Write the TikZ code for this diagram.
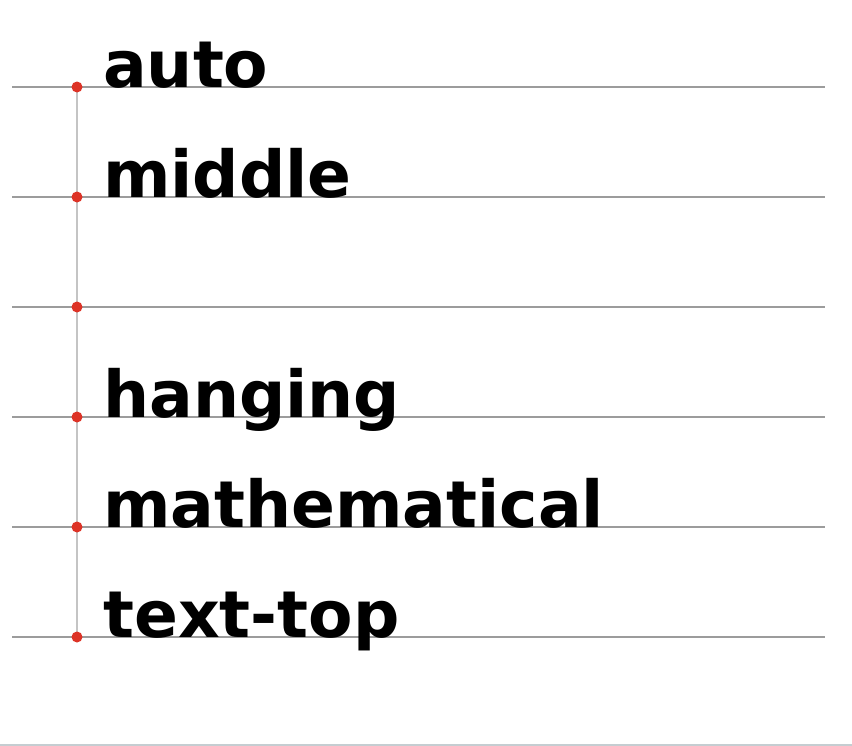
\documentclass[tikz,border=0pt]{standalone}
\usepackage{fontspec}
\setmainfont{DejaVu Sans}
\definecolor{rulegray}{HTML}{9C9C9C}
\definecolor{stemgray}{HTML}{C4C4C4}
\definecolor{dotred}{HTML}{DD3326}
\definecolor{framegray}{HTML}{C5CDD1}
\begin{document}
\begin{tikzpicture}[x=1bp,y=-1bp,
  rule/.style={draw=rulegray,line width=2bp},
  stem/.style={draw=stemgray,line width=2.6bp},
  dot/.style={circle,fill=dotred,inner sep=0pt,minimum size=11bp},
  word/.style={anchor=base west,inner sep=0pt,font=\fontsize{65}{78}\selectfont\bfseries}]
  \useasboundingbox (0,0) rectangle (852,746);

  % baselines
  \coordinate (l1) at (12,87);  \coordinate (r1) at (825,87);
  \coordinate (l2) at (12,197); \coordinate (r2) at (825,197);
  \coordinate (l3) at (12,307); \coordinate (r3) at (825,307);
  \coordinate (l4) at (12,417); \coordinate (r4) at (825,417);
  \coordinate (l5) at (12,527); \coordinate (r5) at (825,527);
  \coordinate (l6) at (12,637); \coordinate (r6) at (825,637);
  \draw[rule] (l1) -- (r1);
  \draw[rule] (l2) -- (r2);
  \draw[rule] (l3) -- (r3);
  \draw[rule] (l4) -- (r4);
  \draw[rule] (l5) -- (r5);
  \draw[rule] (l6) -- (r6);

  \coordinate (p1) at (77,87);
  \coordinate (p6) at (77,637);
  \draw[stem] (p1) -- (p6);

  \node[dot] (d1) at (77,87) {};
  \node[dot] (d2) at (77,197) {};
  \node[dot] (d3) at (77,307) {};
  \node[dot] (d4) at (77,417) {};
  \node[dot] (d5) at (77,527) {};
  \node[dot] (d6) at (77,637) {};

  \node[word] (auto) at (103,87) {auto};
  \node[word] (middle) at (103,197) {middle};
  \node[word] (hanging) at (103,417) {hanging};
  \node[word] (math) at (103,527) {mathematical};
  \node[word] (texttop) at (103,637) {text-top};

  % frame edge
  \coordinate (f1) at (0,745);
  \coordinate (f2) at (852,745);
  \draw[draw=framegray,line width=2bp] (f1) -- (f2);
\end{tikzpicture}
\end{document}
